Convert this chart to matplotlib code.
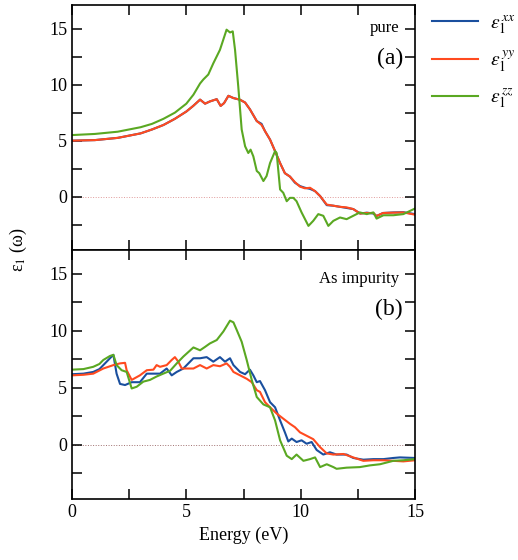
import matplotlib
matplotlib.use("Agg")
import matplotlib.pyplot as plt
from matplotlib.ticker import MultipleLocator

plt.rcParams['font.family'] = ['Liberation Serif', 'DejaVu Serif']
plt.rcParams['mathtext.fontset'] = 'stix'

# ---------------- data: panel (a) pure ----------------
a_xy_x = [0.0, 1.0, 2.0, 3.0, 3.5, 4.0, 4.5, 5.0, 5.3, 5.6, 5.82, 6.03, 6.33, 6.5, 6.65, 6.84, 7.06,
          7.35, 7.57, 7.78, 8.08, 8.29, 8.44, 8.66, 8.88, 9.1, 9.31, 9.53, 9.75, 9.97, 10.19,
          10.41, 10.63, 10.85, 11.14, 11.43, 11.72, 12.01, 12.3, 12.6, 12.89, 13.18, 13.32,
          13.6, 14.05, 14.49, 15.0]
a_xx_y = [5.0, 5.05, 5.25, 5.65, 6.0, 6.4, 6.95, 7.6, 8.1, 8.66, 8.3, 8.5, 8.7, 8.1, 8.35, 9.0, 8.8,
          8.65, 8.4, 7.8, 6.75, 6.5, 5.85, 5.1, 4.07, 3.0, 2.1, 1.8, 1.25, 0.95, 0.8,
          0.7, 0.5, 0.06, -0.75, -0.8, -0.9, -1.0, -1.1, -1.5, -1.42, -1.5, -1.72,
          -1.45, -1.4, -1.38, -1.55]
a_yy_y = [5.0, 5.05, 5.25, 5.65, 6.0, 6.4, 6.95, 7.6, 8.1, 8.66, 8.3, 8.5, 8.7, 8.1, 8.35, 9.0, 8.8,
          8.65, 8.4, 7.8, 6.75, 6.4, 5.85, 5.1, 4.07, 3.0, 2.1, 1.8, 1.3, 0.9, 0.75,
          0.8, 0.5, 0.06, -0.7, -0.8, -0.9, -0.95, -1.1, -1.5, -1.45, -1.45, -1.72,
          -1.45, -1.42, -1.4, -1.6]

a_zz_x = [0.0, 1.0, 2.0, 3.0, 3.5, 4.0, 4.5, 5.0, 5.31, 5.6, 5.74, 5.96, 6.18, 6.47, 6.76, 6.91, 7.03, 7.13,
          7.27, 7.42, 7.57, 7.71, 7.81, 7.93, 8.08, 8.19, 8.37, 8.51, 8.66, 8.88, 8.95,
          9.1, 9.24, 9.39, 9.53, 9.68, 9.82, 10.04, 10.19, 10.34, 10.55, 10.77, 10.99,
          11.21, 11.43, 11.72, 12.01, 12.3, 12.59, 12.89, 13.18, 13.32, 13.62, 14.05,
          14.49, 15.0]
a_zz_y = [5.5, 5.6, 5.8, 6.2, 6.5, 6.95, 7.5, 8.3, 9.1, 10.1, 10.45, 10.9, 11.9, 13.1, 14.9, 14.65, 14.75, 13.1,
          9.85, 6.0, 4.5, 3.9, 4.2, 3.6, 2.3, 2.1, 1.4, 1.85, 3.0, 4.07, 3.9,
          0.65, 0.35, -0.4, -0.1, -0.1, -0.4, -1.4, -2.0, -2.6, -2.15, -1.55, -1.7,
          -2.6, -2.15, -1.85, -2.0, -1.7, -1.4, -1.55, -1.4, -1.95, -1.65, -1.65,
          -1.55, -1.05]

# ---------------- data: panel (b) As impurity ----------------
b_xx_x = [0.0, 0.5, 0.93, 1.2, 1.37, 1.66, 1.81, 1.95, 2.1, 2.32, 2.61, 2.97, 3.27, 3.56, 3.85, 4.14,
          4.36, 4.58, 4.87, 5.09, 5.31, 5.6, 5.89, 6.18, 6.47, 6.69, 6.91, 7.06, 7.35,
          7.57, 7.78, 7.93, 8.08, 8.22, 8.44, 8.66, 8.88, 9.1, 9.31, 9.46, 9.61, 9.82,
          10.04, 10.26, 10.48, 10.7, 10.99, 11.28, 11.57, 12.01, 12.3, 12.74, 13.18,
          13.62, 14.05, 14.34, 15.0]
b_xx_y = [6.2, 6.25, 6.4, 6.65, 7.0, 7.6, 7.9, 6.25, 5.35, 5.25, 5.5, 5.5, 6.25, 6.25, 6.25, 6.7,
          6.1, 6.4, 6.7, 7.15, 7.6, 7.6, 7.7, 7.3, 7.7, 7.3, 7.6, 7.0, 6.4,
          6.2, 6.6, 6.1, 5.5, 5.6, 4.8, 3.75, 3.3, 2.15, 1.1, 0.3, 0.55, 0.25,
          0.4, 0.1, 0.25, -0.45, -0.85, -0.65, -0.85, -0.85, -1.15, -1.3, -1.25,
          -1.25, -1.15, -1.1, -1.15]

b_yy_x = [0.0, 0.5, 0.93, 1.37, 1.81, 2.1, 2.32, 2.39, 2.61, 2.97, 3.27, 3.56, 3.7, 3.85, 4.14,
          4.36, 4.5, 4.65, 4.8, 5.01, 5.31, 5.6, 5.89, 6.18, 6.47, 6.76, 6.91, 7.06,
          7.35, 7.64, 7.86, 8.08, 8.22, 8.44, 8.66, 8.95, 9.24, 9.53, 9.75, 9.97,
          10.26, 10.55, 10.85, 11.14, 11.43, 11.87, 12.3, 12.74, 13.18, 13.62, 14.05,
          14.49, 15.0]
b_yy_y = [6.1, 6.15, 6.25, 6.7, 7.0, 7.15, 7.2, 6.55, 5.7, 6.1, 6.55, 6.6, 7.0, 6.85, 7.0,
          7.45, 7.7, 7.3, 6.7, 6.7, 6.7, 7.0, 6.7, 7.0, 6.9, 7.15, 6.85, 6.4,
          6.1, 5.8, 5.5, 4.8, 4.65, 3.75, 3.3, 2.75, 2.3, 1.85, 1.55, 1.1,
          0.8, 0.5, -0.2, -0.75, -0.85, -0.8, -1.1, -1.4, -1.35, -1.35, -1.4,
          -1.45, -1.35]

b_zz_x = [0.0, 0.5, 0.93, 1.2, 1.37, 1.66, 1.81, 1.95, 2.17, 2.39, 2.61, 2.83, 3.12, 3.41, 3.7, 3.99,
          4.29, 4.58, 4.87, 5.31, 5.6, 5.82, 6.03, 6.33, 6.62, 6.91, 7.06, 7.2, 7.42,
          7.64, 7.86, 8.08, 8.37, 8.66, 8.88, 9.1, 9.39, 9.61, 9.82, 10.12, 10.41,
          10.63, 10.85, 11.14, 11.43, 11.57, 12.01, 12.59, 13.03, 13.47, 14.05, 14.49,
          15.0]
b_zz_y = [6.6, 6.65, 6.85, 7.1, 7.45, 7.8, 7.9, 7.0, 6.55, 6.4, 4.95, 5.1, 5.55, 5.7, 6.0, 6.25,
          6.5, 7.15, 7.75, 8.55, 8.3, 8.6, 8.9, 9.2, 9.95, 10.9, 10.75, 10.1, 9.05,
          7.45, 5.7, 4.2, 3.55, 3.3, 2.15, 0.4, -0.95, -1.25, -0.85, -1.4, -1.25,
          -1.1, -1.95, -1.7, -1.95, -2.1, -2.0, -1.95, -1.8, -1.7, -1.4, -1.35,
          -1.25]

labels = [r'$\varepsilon_{\mathit{1}}^{\,xx}$', r'$\varepsilon_{\mathit{1}}^{\,yy}$',
          r'$\varepsilon_{\mathit{1}}^{\,zz}$']
colors = ['#1a4f9e', '#ff4a1f', '#5aa822']

fig = plt.figure(figsize=(5.18, 5.6), dpi=100)
L = 72 / 518
W = (415 - 72) / 518
ax1 = fig.add_axes([L, 1 - 250 / 560, W, 245 / 560])
ax2 = fig.add_axes([L, 1 - 499 / 560, W, 249 / 560])

for ax in (ax1, ax2):
    ax.set_xlim(0, 15)
    ax.set_ylim(-4.75, 17.1)
    ax.xaxis.set_major_locator(MultipleLocator(5))
    ax.xaxis.set_minor_locator(MultipleLocator(2.5))
    ax.yaxis.set_major_locator(MultipleLocator(5))
    ax.yaxis.set_minor_locator(MultipleLocator(2.5))
    ax.tick_params(which='both', direction='in', top=True, right=True, labelsize=13)
    ax.tick_params(which='major', length=7, width=1.1)
    ax.tick_params(which='minor', length=7, width=1.1)
    for s in ax.spines.values():
        s.set_linewidth(1.2)

ax1.axhline(0, color='#e09a9a', lw=0.7, ls=':', zorder=1)
ax2.axhline(0, color='#a07070', lw=0.7, ls=':', zorder=1)

h1, = ax1.plot(a_xy_x, a_xx_y, color=colors[0], lw=1.5)
h2, = ax1.plot(a_xy_x, a_yy_y, color=colors[1], lw=1.5)
h3, = ax1.plot(a_zz_x, a_zz_y, color=colors[2], lw=1.5)
ax2.plot(b_xx_x, b_xx_y, color=colors[0], lw=1.5)
ax2.plot(b_yy_x, b_yy_y, color=colors[1], lw=1.5)
ax2.plot(b_zz_x, b_zz_y, color=colors[2], lw=1.5)

ax1.tick_params(labelbottom=False)
ax2.set_xlabel('Energy (eV)', fontsize=13, labelpad=4)

ax1.text(0.955, 0.905, 'pure', transform=ax1.transAxes, ha='right', va='center', fontsize=12)
ax1.text(0.965, 0.78, '(a)', transform=ax1.transAxes, ha='right', va='center', fontsize=17)
ax2.text(0.955, 0.885, 'As impurity', transform=ax2.transAxes, ha='right', va='center', fontsize=12)
ax2.text(0.965, 0.76, '(b)', transform=ax2.transAxes, ha='right', va='center', fontsize=17)

fig.text(18 / 518, 1 - 250 / 560, r'ε$_1$ (ω)', rotation=90, ha='center', va='center', fontsize=13)

fig.legend([h1, h2, h3], labels, loc='upper left', bbox_to_anchor=(424 / 518, 1 - 5 / 560),
           frameon=False, fontsize=14, handlelength=2.4, labelspacing=0.65,
           handletextpad=0.6, borderaxespad=0.0)

fig.savefig('out.png', dpi=100)
